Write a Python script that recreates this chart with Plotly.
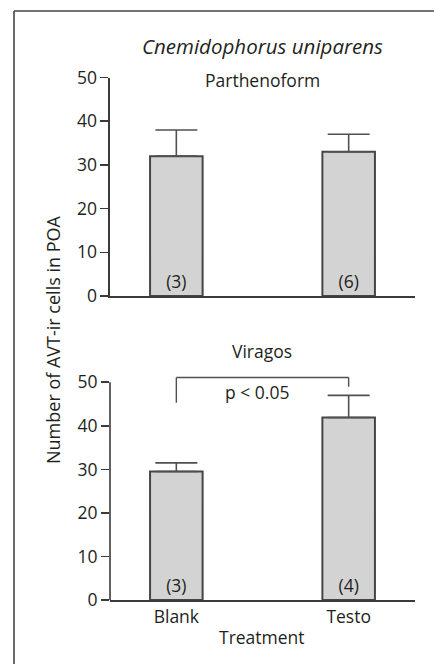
import plotly.graph_objects as go

categories = ["Blank", "Testo"]
parth_means = [32.0, 33.0]
parth_err = [6.0, 4.0]
parth_n = ["(3)", "(6)"]
virago_means = [29.5, 41.9]
virago_err = [2.0, 5.1]
virago_n = ["(3)", "(4)"]
yticks = [0, 10, 20, 30, 40, 50]
bracket_y = 51.1
bracket_left_end = 45.3
bracket_right_end = 49.0

W, H = 434, 664
FONT = "Open Sans"
TXT = "#231f20"
AX = "#3a3a3a"
FS = 17.5
xpos = [0, 1]

def px(x):
    return x / W

def py(y):
    return 1 - y / H

fig = go.Figure()

def add_bars(means, errs, labels, xa, ya):
    fig.add_trace(go.Bar(
        x=xpos, y=means, width=0.305,
        marker=dict(color="#d3d3d3", line=dict(color="#454545", width=2)),
        error_y=dict(type="data", array=errs, arrayminus=[0] * len(errs),
                     symmetric=False, color="#505050", thickness=1.6, width=21),
        text=labels, textposition="inside", insidetextanchor="start",
        textfont=dict(family=FONT, size=FS, color=TXT),
        constraintext="none", cliponaxis=False,
        xaxis=xa, yaxis=ya, showlegend=False, hoverinfo="skip"))

add_bars(parth_means, parth_err, parth_n, "x", "y")
add_bars(virago_means, virago_err, virago_n, "x2", "y2")

xdom = [px(110), px(415)]
xrange = [-0.385, 1.385]
common_x = dict(domain=xdom, range=xrange, showline=True, linecolor=AX, linewidth=1.6,
                showgrid=False, zeroline=False, ticks="", tickvals=xpos, automargin=False)
fig.update_layout(
    template="none",
    width=W, height=H, margin=dict(l=0, r=0, t=0, b=0, pad=0, autoexpand=False),
    paper_bgcolor="white", plot_bgcolor="white",
    font=dict(family=FONT, size=FS, color=TXT),
    xaxis=dict(**common_x, anchor="y", showticklabels=False),
    xaxis2=dict(**common_x, anchor="y2", ticktext=categories, showticklabels=True,
                tickfont=dict(family=FONT, size=FS, color=TXT)),
    yaxis=dict(domain=[py(296), py(77.5)], range=[0, 50], anchor="x",
               showline=True, linecolor=AX, linewidth=1.6, ticks="outside",
               ticklen=8, tickwidth=1.6, tickcolor=AX, tickvals=yticks,
               showgrid=False, zeroline=False, automargin=False,
               tickfont=dict(family=FONT, size=FS, color=TXT)),
    yaxis2=dict(domain=[py(600), py(600 - 53 * 4.354)], range=[0, 53], anchor="x2",
                showline=False, ticks="outside",
                ticklen=8, tickwidth=1.6, tickcolor=AX, tickvals=yticks,
                showgrid=False, zeroline=False, automargin=False,
                tickfont=dict(family=FONT, size=FS, color=TXT)),
)

shapes = [
    dict(type="line", xref="paper", yref="paper", x0=px(14), x1=1.0, y0=py(11), y1=py(11),
         line=dict(color="#444", width=1.6)),
    dict(type="line", xref="paper", yref="paper", x0=px(14), x1=px(14), y0=py(11), y1=0,
         line=dict(color="#444", width=1.6)),
    dict(type="line", xref="x2 domain", yref="y2", x0=0, x1=0, y0=0, y1=yticks[-1],
         line=dict(color=AX, width=1.6)),
    dict(type="line", xref="x2", yref="y2", x0=xpos[0], x1=xpos[1], y0=bracket_y, y1=bracket_y,
         line=dict(color="#505050", width=1.4)),
    dict(type="line", xref="x2", yref="y2", x0=xpos[0], x1=xpos[0], y0=bracket_left_end, y1=bracket_y,
         line=dict(color="#505050", width=1.4)),
    dict(type="line", xref="x2", yref="y2", x0=xpos[1], x1=xpos[1], y0=bracket_right_end, y1=bracket_y,
         line=dict(color="#505050", width=1.4)),
]
fig.update_layout(shapes=shapes)

annotations = [
    dict(text="<i>Cnemidophorus uniparens</i>", xref="paper", yref="paper",
         x=px(262), y=py(46), showarrow=False, font=dict(size=20.5, color=TXT, family=FONT),
         xanchor="center", yanchor="middle"),
    dict(text="Parthenoform", xref="paper", yref="paper", x=px(262), y=py(80),
         showarrow=False, font=dict(size=FS, color=TXT, family=FONT), xanchor="center", yanchor="middle"),
    dict(text="Viragos", xref="paper", yref="paper", x=px(262), y=py(351),
         showarrow=False, font=dict(size=FS, color=TXT, family=FONT), xanchor="center", yanchor="middle"),
    dict(text="p < 0.05", xref="paper", yref="paper", x=px(257), y=py(392),
         showarrow=False, font=dict(size=FS, color=TXT, family=FONT), xanchor="center", yanchor="middle"),
    dict(text="Number of AVT-ir cells in POA", xref="paper", yref="paper", x=px(53), y=py(340),
         showarrow=False, textangle=-90, font=dict(size=18, color=TXT, family=FONT),
         xanchor="center", yanchor="middle"),
    dict(text="Treatment", xref="paper", yref="paper", x=px(262), y=py(637),
         showarrow=False, font=dict(size=FS, color=TXT, family=FONT), xanchor="center", yanchor="middle"),
]
fig.update_layout(annotations=annotations)

fig.write_html(
    "out.html",
    config={"displayModeBar": False, "staticPlot": True},
    post_script="document.body.style.margin='0';document.body.style.overflow='hidden';",
)
